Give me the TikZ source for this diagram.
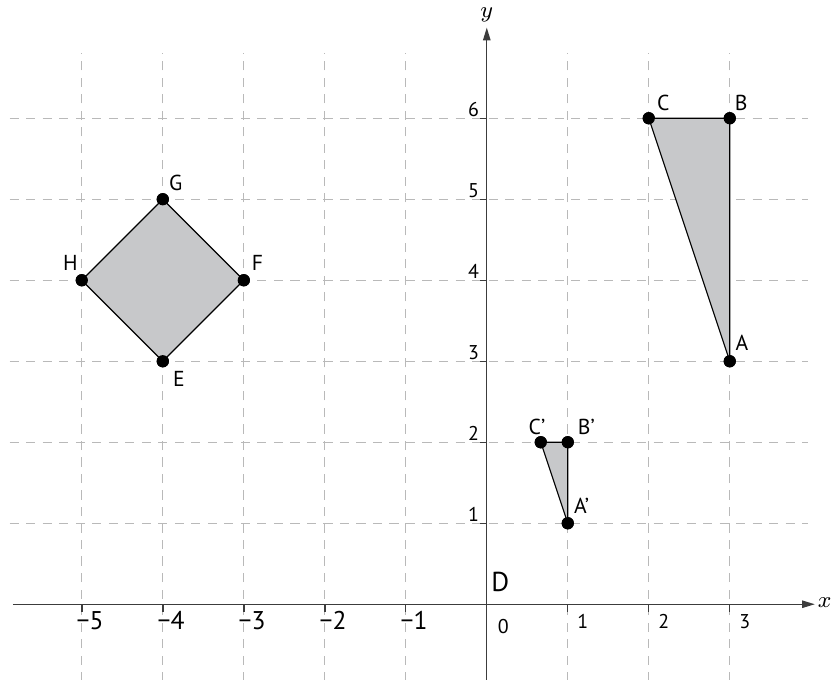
\documentclass[tikz,border=0pt]{standalone}
\usepackage{fontspec}
\setmainfont{PT Sans}
\usetikzlibrary{arrows.meta}

\begin{document}
\begin{tikzpicture}[line join=round,
  dot/.style={circle,fill=black,inner sep=0pt,minimum size=4.3pt},
  vlbl/.style={font=\fontsize{7.6}{9}\selectfont,inner sep=0pt},
  biglbl/.style={font=\fontsize{9}{11}\selectfont,inner sep=0pt,anchor=west},
  smalllbl/.style={font=\fontsize{7}{8}\selectfont,inner sep=0pt},
  gridline/.style={gridgray,line width=0.4pt,dash pattern=on 3.2pt off 2.6pt},
  axisline/.style={axisgray,line width=0.5pt},
  shapeline/.style={draw=black,fill=shade,line width=0.4pt}]
  \definecolor{gridgray}{RGB}{185,185,185}
  \definecolor{axisgray}{RGB}{60,60,60}
  \definecolor{shade}{RGB}{199,200,202}

  \useasboundingbox (-6.01,-0.93) rectangle (4.25,7.46);

  % grid
  \foreach \y in {1,...,6}
    \draw[gridline] (-5.89,\y) -- (3.96,\y);
  \foreach \x in {-5,...,-1,1,2,3}
    \draw[gridline] (\x,-0.95) -- (\x,6.81);

  % axes
  \coordinate (xstart) at (-5.85,0);
  \coordinate (xend) at (4.05,0);
  \coordinate (ystart) at (0,-0.95);
  \coordinate (yend) at (0,7.12);
  \draw[axisline,-{Triangle[length=4.5pt,width=2.6pt]}] (xstart) -- (xend);
  \draw[axisline,-{Triangle[length=4.5pt,width=2.6pt]}] (ystart) -- (yend);
  \node[font=\fontsize{7.6}{9}\selectfont,anchor=west,inner sep=0pt] (xlab) at (4.08,0.02) {$x$};
  \node[font=\fontsize{7.6}{9}\selectfont,inner sep=0pt] (ylab) at (0,7.28) {$y$};

  % ticks and numbers
  \foreach \x in {-5,...,-1,1,2,3}
    \draw[axisline] (\x,0) -- (\x,-0.1);
  \foreach \y in {1,...,6}
    \draw[axisline] (0,\y) -- (-0.08,\y);
  \foreach \n in {1,...,5}
    \node[biglbl] (xm\n) at (-\n-0.07,-0.2) {−\n};
  \foreach \n in {1,2,3}
    \node[smalllbl,anchor=west] (xp\n) at (\n+0.11,-0.21) {\n};
  \foreach \n in {1,...,6}
    \node[smalllbl,anchor=east] (yp\n) at (-0.09,\n+0.11) {\n};
  \node[smalllbl,anchor=west] (zero) at (0.13,-0.28) {0};
  \node[font=\fontsize{9.6}{11}\selectfont,inner sep=0pt,anchor=west] (D) at (0.05,0.27) {D};

  % square EFGH
  \node[dot] (E) at (-4,3) {};
  \node[dot] (F) at (-3,4) {};
  \node[dot] (G) at (-4,5) {};
  \node[dot] (H) at (-5,4) {};
  \filldraw[shapeline] (E.center) -- (F.center) -- (G.center) -- (H.center) -- cycle;
  \foreach \p in {E,F,G,H} \node[dot] at (\p) {};
  \node[vlbl] (Elab) at (-3.8,2.78) {E};
  \node[vlbl] (Flab) at (-2.83,4.21) {F};
  \node[vlbl] (Glab) at (-3.84,5.2) {G};
  \node[vlbl] (Hlab) at (-5.14,4.21) {H};

  % triangle ABC
  \node[dot] (A) at (3,3) {};
  \node[dot] (B) at (3,6) {};
  \node[dot] (C) at (2,6) {};
  \filldraw[shapeline] (A.center) -- (B.center) -- (C.center) -- cycle;
  \foreach \p in {A,B,C} \node[dot] at (\p) {};
  \node[vlbl] (Alab) at (3.15,3.23) {A};
  \node[vlbl] (Blab) at (3.14,6.19) {B};
  \node[vlbl] (Clab) at (2.18,6.19) {C};

  % image triangle A'B'C'
  \node[dot] (A1) at (1,1) {};
  \node[dot] (B1) at (1,2) {};
  \node[dot] (C1) at (0.667,2) {};
  \filldraw[shapeline] (A1.center) -- (B1.center) -- (C1.center) -- cycle;
  \foreach \p in {A1,B1,C1} \node[dot] at (\p) {};
  \node[vlbl] (A1lab) at (1.17,1.21) {A’};
  \node[vlbl] (B1lab) at (1.23,2.19) {B’};
  \node[vlbl] (C1lab) at (0.62,2.19) {C’};
\end{tikzpicture}
\end{document}
